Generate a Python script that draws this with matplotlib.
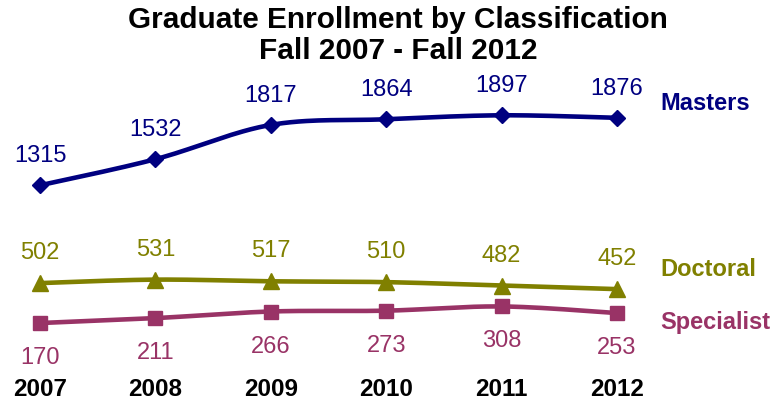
import numpy as np
import matplotlib
matplotlib.use("Agg")
import matplotlib.pyplot as plt

plt.rcParams['font.family'] = ['Liberation Sans', 'DejaVu Sans']

# dados do grafico
anos = [2007, 2008, 2009, 2010, 2011, 2012]
masters = [1315, 1532, 1817, 1864, 1897, 1876]
doctoral = [502, 531, 517, 510, 482, 452]
specialist = [170, 211, 266, 273, 308, 253]

cor_masters = '#000080'
cor_doctoral = '#808000'
cor_specialist = '#993366'


def suaviza(x, y, n=30):
    '''Curva suave tipo Excel (Catmull-Rom / Bezier) passando pelos pontos.'''
    x = np.asarray(x, float)
    y = np.asarray(y, float)
    p = np.column_stack([x, y])
    pts = [p[0]] + list(p) + [p[-1]]
    out = []
    t = np.linspace(0, 1, n)[:, None]
    for i in range(1, len(pts) - 2):
        p0, p1, p2, p3 = pts[i - 1], pts[i], pts[i + 1], pts[i + 2]
        c1 = p1 + (p2 - p0) / 6
        c2 = p2 - (p3 - p1) / 6
        seg = ((1 - t) ** 3) * p1 + 3 * ((1 - t) ** 2) * t * c1 + 3 * (1 - t) * t ** 2 * c2 + t ** 3 * p2
        out.append(seg if i == 1 else seg[1:])
    out = np.vstack(out)
    return out[:, 0], out[:, 1]


fig = plt.figure(figsize=(7.74, 4.03), dpi=100)
ax = fig.add_axes([40 / 774, (403 - 343.5) / 403, 577 / 774, 240.6 / 403])
ax.set_xlim(2007, 2012)
ax.set_ylim(0, 2000)
ax.axis('off')

series = [
    (masters, cor_masters, 'D', 8.5, 29),
    (doctoral, cor_doctoral, '^', 11, 30),
    (specialist, cor_specialist, 's', 10, -35),
]

for valores, cor, marca, ms, off in series:
    xs, ys = suaviza(anos, valores)
    ax.plot(xs, ys, color=cor, lw=3.3, clip_on=False, solid_capstyle='round')
    ax.plot(anos, valores, ls='none', marker=marca, ms=ms, color=cor, clip_on=False)
    for a, v in zip(anos, valores):
        ax.annotate(str(v), (a, v), xytext=(0, off), textcoords='offset pixels',
                    ha='center', va='center', fontsize=17, color=cor)

for a in anos:
    ax.annotate(str(a), (a, 0), xytext=(0, -46), textcoords='offset pixels',
                ha='center', va='center', fontsize=17.5, fontweight='bold', color='black',
                annotation_clip=False)

fig.text(660 / 774, 1 - 103 / 403, 'Masters', ha='left', va='center',
         fontsize=17, fontweight='bold', color=cor_masters)
fig.text(660 / 774, 1 - 270 / 403, 'Doctoral', ha='left', va='center',
         fontsize=17, fontweight='bold', color=cor_doctoral)
fig.text(660 / 774, 1 - 322 / 403, 'Specialist', ha='left', va='center',
         fontsize=17, fontweight='bold', color=cor_specialist)

fig.text(398 / 774, 1 - 20 / 403, 'Graduate Enrollment by Classification', ha='center', va='center',
         fontsize=21.4, fontweight='bold')
fig.text(398 / 774, 1 - 51 / 403, 'Fall 2007 - Fall 2012', ha='center', va='center',
         fontsize=21.4, fontweight='bold')

fig.savefig('out.png', dpi=100)
